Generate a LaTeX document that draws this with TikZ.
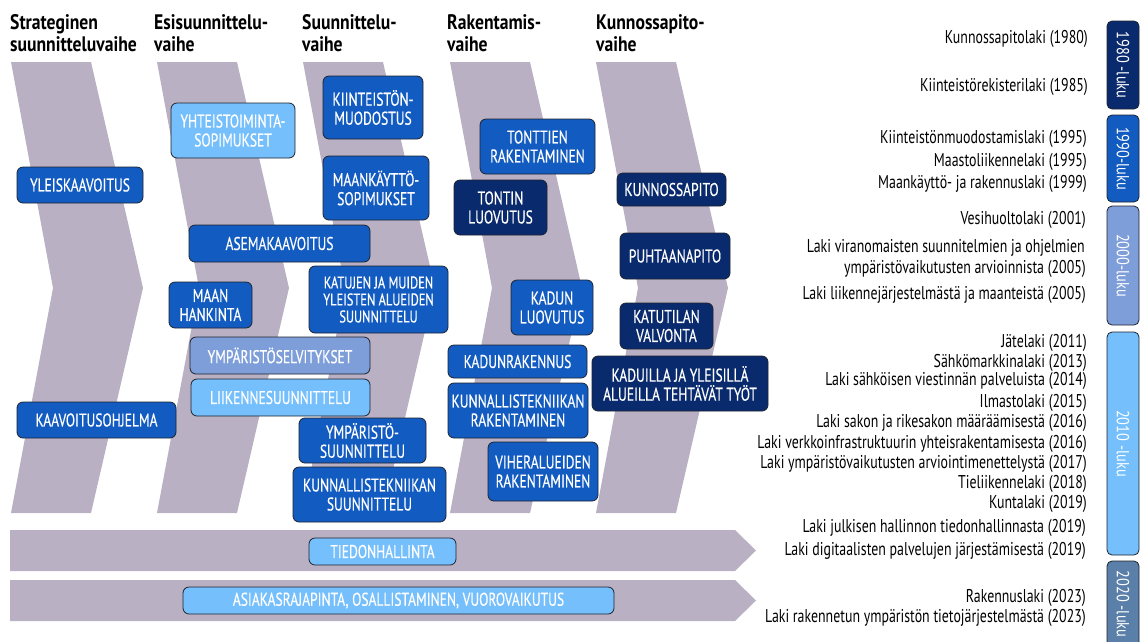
\documentclass[tikz,border=0pt]{standalone}
\usepackage{fontspec}
\setmainfont{PT Sans}[FakeStretch=0.75]
\newfontfamily\phasefont{PT Sans}[FakeStretch=0.84]
\newfontfamily\boxfont{PT Sans}[FakeStretch=0.73, FakeBold=0.4]
\newfontfamily\tabfont{PT Sans}[FakeStretch=0.82]
\usetikzlibrary{positioning}
\definecolor{chevgray}{RGB}{185,177,195}
\definecolor{midblue}{RGB}{18,91,193}
\definecolor{navyblue}{RGB}{10,42,110}
\definecolor{skyblue}{RGB}{117,191,252}
\definecolor{periblue}{RGB}{126,158,218}
\definecolor{steelblue}{RGB}{90,127,168}
\definecolor{edgegray}{RGB}{30,35,45}

\begin{document}
\begin{tikzpicture}[
        x=1pt, y=-1pt,
        chevron/.style={fill=chevgray, draw=none},
        phase/.style={anchor=north west, inner sep=0pt, align=left, text=black, font=\phasefont\bfseries\fontsize{21}{22}\selectfont},
        box/.style={rectangle, draw=edgegray, line width=0.8pt, rounded corners=6pt, text=white, align=center, inner sep=1pt, font=\boxfont\fontsize{18.5}{19}\selectfont},
        midbox/.style={box, fill=midblue},
        navybox/.style={box, fill=navyblue},
        skybox/.style={box, fill=skyblue},
        peribox/.style={box, fill=periblue},
        law/.style={anchor=base east, inner sep=0pt, text=black, font=\fontsize{18.5}{20}\selectfont},
        decade/.style={rectangle, draw=edgegray, line width=0.8pt, rounded corners=5pt, rotate=-90, minimum height=32pt, text=white, inner sep=0pt, font=\tabfont\fontsize{17.5}{17.5}\selectfont}
    ]
        \useasboundingbox (0,0) rectangle (1140,641);

        % phase arrows
        \fill[chevron] (11,62) -- ++(80,0) -- ++(52,226) -- ++(-52,225) -- ++(-80,0) -- ++(42,-225) -- cycle;
        \fill[chevron] (157,62) -- ++(80,0) -- ++(52,226) -- ++(-52,225) -- ++(-80,0) -- ++(42,-225) -- cycle;
        \fill[chevron] (303,62) -- ++(80,0) -- ++(52,226) -- ++(-52,225) -- ++(-80,0) -- ++(42,-225) -- cycle;
        \fill[chevron] (450,62) -- ++(80,0) -- ++(52,226) -- ++(-52,225) -- ++(-80,0) -- ++(42,-225) -- cycle;
        \fill[chevron] (596,62) -- ++(80,0) -- ++(52,226) -- ++(-52,225) -- ++(-80,0) -- ++(42,-225) -- cycle;
        \fill[chevron] (10,530) -- (735,530) -- (756,550.5) -- (735,571) -- (10,571) -- cycle;
        \fill[chevron] (10,580) -- (735,580) -- (756,600.5) -- (735,621) -- (10,621) -- cycle;

        % phase titles
        \node[phase] (strat) at (10,14) {Strateginen\\suunnitteluvaihe};
        \node[phase] (esis) at (154,14) {Esisuunnittelu-\\vaihe};
        \node[phase] (suun) at (302,14) {Suunnittelu-\\vaihe};
        \node[phase] (rak) at (447,14) {Rakentamis-\\vaihe};
        \node[phase] (kunn) at (596,14) {Kunnossapito-\\vaihe};

        % tasks
        \node[midbox, minimum width=126pt, minimum height=36pt] (yleis) at (80,185) {YLEISKAAVOITUS};
        \node[midbox, minimum width=159pt, minimum height=36pt] (kaavohj) at (96.5,420) {KAAVOITUSOHJELMA};

        \node[skybox, minimum width=124pt, minimum height=55pt] (yhteis) at (233,130.5) {YHTEISTOIMINTA-\\SOPIMUKSET};
        \node[midbox, minimum width=181pt, minimum height=37pt] (asema) at (279.5,243.5) {ASEMAKAAVOITUS};
        \node[midbox, minimum width=83pt, minimum height=46pt] (maan) at (210.5,305) {MAAN\\HANKINTA};
        \node[peribox, minimum width=180pt, minimum height=37pt] (ympsel) at (280,355.5) {YMPÄRISTÖSELVITYKSET};
        \node[skybox, minimum width=179pt, minimum height=37pt] (liik) at (280.5,397.5) {LIIKENNESUUNNITTELU};

        \node[midbox, minimum width=100pt, minimum height=63pt] (kiint) at (373,107.5) {KIINTEISTÖN-\\MUODOSTUS};
        \node[midbox, minimum width=106pt, minimum height=64pt] (maankay) at (376,188) {MAANKÄYTTÖ-\\SOPIMUKSET};
        \node[midbox, minimum width=139pt, minimum height=67pt, font=\boxfont\fontsize{17}{17}\selectfont] (katujen) at (378.5,299.5) {KATUJEN JA MUIDEN\\YLEISTEN ALUEIDEN\\SUUNNITTELU};
        \node[midbox, minimum width=127pt, minimum height=45pt] (ympsuun) at (362.5,440.5) {YMPÄRISTÖ-\\SUUNNITTELU};
        \node[midbox, minimum width=153pt, minimum height=55pt] (kunsuun) at (369.5,494.5) {KUNNALLISTEKNIIKAN\\SUUNNITTELU};
        \node[skybox, minimum width=147pt, minimum height=27pt] (tiedon) at (382.5,551.5) {TIEDONHALLINTA};

        \node[midbox, minimum width=115pt, minimum height=55pt] (tontrak) at (537.5,146.5) {TONTTIEN\\RAKENTAMINEN};
        \node[navybox, minimum width=93pt, minimum height=55pt] (tontluov) at (500.5,207.5) {TONTIN\\LUOVUTUS};
        \node[midbox, minimum width=82pt, minimum height=55pt] (kadluov) at (552,307.5) {KADUN\\LUOVUTUS};
        \node[midbox, minimum width=139pt, minimum height=33pt] (kadrak) at (517.5,361.5) {KADUNRAKENNUS};
        \node[midbox, minimum width=140pt, minimum height=55pt] (kunrak) at (518,410.5) {KUNNALLISTEKNIIKAN\\RAKENTAMINEN};
        \node[midbox, minimum width=110pt, minimum height=59pt] (viher) at (543,471.5) {VIHERALUEIDEN\\RAKENTAMINEN};
        \node[skybox, minimum width=431pt, minimum height=27pt] (asiakas) at (398.5,600.5) {ASIAKASRAJAPINTA, OSALLISTAMINEN, VUOROVAIKUTUS};

        \node[navybox, minimum width=109pt, minimum height=33pt] (kpito) at (671.5,189.5) {KUNNOSSAPITO};
        \node[navybox, minimum width=110pt, minimum height=46pt] (puhtaa) at (675,256) {PUHTAANAPITO};
        \node[navybox, minimum width=93pt, minimum height=46pt] (katutila) at (666.5,326) {KATUTILAN\\VALVONTA};
        \node[navybox, minimum width=176pt, minimum height=55pt] (kaduilla) at (680,383.5) {KADUILLA JA YLEISILLÄ\\ALUEILLA TEHTÄVÄT TYÖT};

        % laws
        \node[law] (law1) at (1088,43) {Kunnossapitolaki (1980)};
        \node[law] (law2) at (1088,91) {Kiinteistörekisterilaki (1985)};
        \node[law] (law3) at (1087,143) {Kiinteistönmuodostamislaki (1995)};
        \node[law] (law4) at (1087,166) {Maastoliikennelaki (1995)};
        \node[law] (law5) at (1087,188) {Maankäyttö- ja rakennuslaki (1999)};
        \node[law] (law6) at (1086,224) {Vesihuoltolaki (2001)};
        \node[law] (law7) at (1085,252) {Laki viranomaisten suunnitelmien ja ohjelmien};
        \node[law] (law8) at (1086,273) {ympäristövaikutusten arvioinnista (2005)};
        \node[law] (law9) at (1086,299) {Laki liikennejärjestelmästä ja maanteistä (2005)};
        \node[law] (law10) at (1087,347) {Jätelaki (2011)};
        \node[law] (law11) at (1087,367) {Sähkömarkkinalaki (2013)};
        \node[law] (law12) at (1087,385) {Laki sähköisen viestinnän palveluista (2014)};
        \node[law] (law13) at (1087,407) {Ilmastolaki (2015)};
        \node[law] (law14) at (1087,427) {Laki sakon ja rikesakon määräämisestä (2016)};
        \node[law] (law15) at (1087,448) {Laki verkkoinfrastruktuurin yhteisrakentamisesta (2016)};
        \node[law] (law16) at (1087,468) {Laki ympäristövaikutusten arviointimenettelystä (2017)};
        \node[law] (law17) at (1087,488) {Tieliikennelaki (2018)};
        \node[law] (law18) at (1087,508) {Kuntalaki (2019)};
        \node[law] (law19) at (1086,532) {Laki julkisen hallinnon tiedonhallinnasta (2019)};
        \node[law] (law20) at (1086,555) {Laki digitaalisten palvelujen järjestämisestä (2019)};
        \node[law] (law21) at (1086,602) {Rakennuslaki (2023)};
        \node[law] (law22) at (1086,622) {Laki rakennetun ympäristön tietojärjestelmästä (2023)};

        % decades
        \node[decade, fill=navyblue, minimum width=88pt] (d1980) at (1123,65) {1980 -luku};
        \node[decade, fill=midblue, minimum width=87pt] (d1990) at (1123,158.5) {1990-luku};
        \node[decade, fill=periblue, minimum width=119pt] (d2000) at (1123,265.5) {2000-luku};
        \node[decade, fill=skyblue, minimum width=223pt] (d2010) at (1123,443.5) {2010 -luku};
        \node[decade, fill=steelblue, minimum width=86pt] (d2020) at (1123,604) {2020 -luku};
    \end{tikzpicture}
\end{document}
